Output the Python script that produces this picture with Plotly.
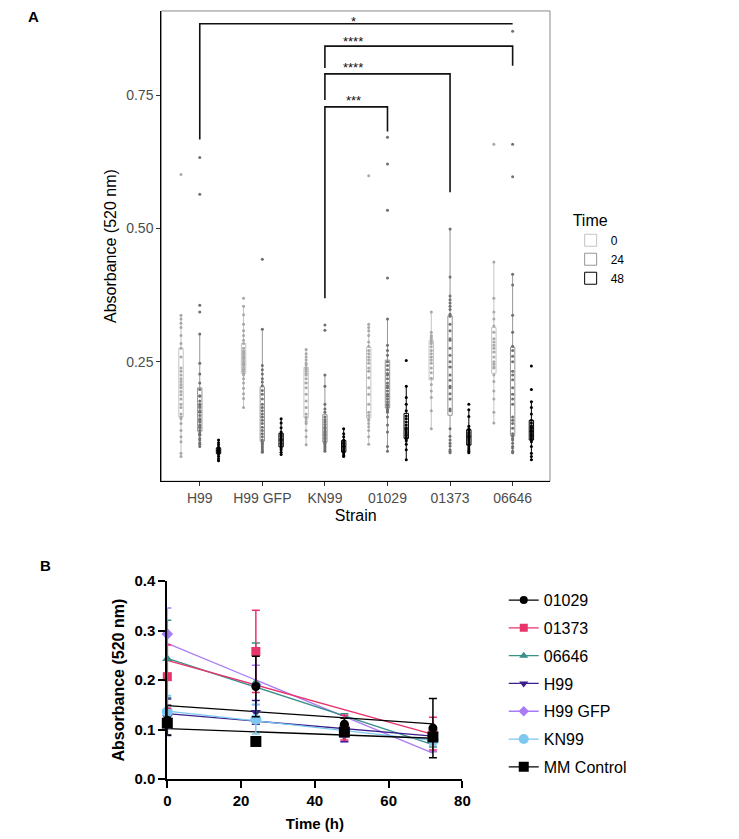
import numpy as np
import plotly.graph_objects as go

# ---------------- Panel A data ----------------
strains = ["H99", "H99 GFP", "KN99", "01029", "01373", "06646"]
times_a = ["0", "24", "48"]

a_h99_0 = [0.601, 0.337, 0.330, 0.322, 0.314, 0.299, 0.284, 0.275, 0.259, 0.238, 0.232, 0.225, 0.218, 0.213,
           0.207, 0.201, 0.194, 0.188, 0.180, 0.170, 0.164, 0.152, 0.146, 0.143, 0.134, 0.121, 0.109, 0.100,
           0.078, 0.072]
a_h99_24 = [0.633, 0.564, 0.356, 0.343, 0.302, 0.247, 0.227, 0.210, 0.198, 0.186, 0.185, 0.176, 0.170, 0.168,
            0.164, 0.158, 0.155, 0.149, 0.143, 0.140, 0.137, 0.131, 0.128, 0.126, 0.121, 0.116, 0.114, 0.112,
            0.106, 0.103, 0.098, 0.095, 0.091]
a_h99_48 = [0.103, 0.098, 0.094, 0.090, 0.088, 0.086, 0.085, 0.084, 0.083, 0.082, 0.081, 0.080, 0.078, 0.076,
            0.072, 0.068, 0.064]

a_gfp_0 = [0.369, 0.354, 0.338, 0.320, 0.308, 0.299, 0.290, 0.284, 0.275, 0.270, 0.268, 0.265, 0.261, 0.258,
           0.256, 0.251, 0.247, 0.245, 0.243, 0.238, 0.235, 0.232, 0.228, 0.225, 0.218, 0.210, 0.200, 0.190,
           0.181, 0.164]
a_gfp_24 = [0.442, 0.311, 0.243, 0.235, 0.227, 0.218, 0.212, 0.205, 0.196, 0.189, 0.180, 0.170, 0.164, 0.158,
            0.152, 0.146, 0.140, 0.134, 0.127, 0.121, 0.115, 0.109, 0.103, 0.100, 0.097, 0.094, 0.091, 0.088,
            0.085, 0.082, 0.080]
a_gfp_48 = [0.143, 0.135, 0.126, 0.118, 0.115, 0.112, 0.109, 0.106, 0.103, 0.100, 0.097, 0.094, 0.091, 0.088,
            0.085, 0.080, 0.076]

a_kn99_0 = [0.273, 0.265, 0.259, 0.253, 0.247, 0.244, 0.238, 0.236, 0.232, 0.228, 0.225, 0.218, 0.210, 0.201,
            0.189, 0.176, 0.164, 0.152, 0.146, 0.143, 0.138, 0.134, 0.121, 0.109, 0.094]
a_kn99_24 = [0.319, 0.309, 0.225, 0.204, 0.170, 0.161, 0.155, 0.146, 0.141, 0.137, 0.132, 0.127, 0.124, 0.120,
             0.116, 0.114, 0.112, 0.108, 0.106, 0.103, 0.100, 0.098, 0.096, 0.094, 0.091, 0.088, 0.085, 0.082]
a_kn99_48 = [0.124, 0.115, 0.109, 0.103, 0.100, 0.097, 0.094, 0.091, 0.088, 0.085, 0.082, 0.080, 0.077, 0.074,
             0.072]

a_01029_0 = [0.599, 0.320, 0.314, 0.308, 0.299, 0.287, 0.279, 0.271, 0.265, 0.259, 0.253, 0.247, 0.238, 0.232,
             0.220, 0.201, 0.189, 0.170, 0.155, 0.149, 0.143, 0.140, 0.134, 0.128, 0.121, 0.109, 0.095]
a_01029_24 = [0.671, 0.621, 0.534, 0.407, 0.330, 0.281, 0.271, 0.262, 0.250, 0.243, 0.235, 0.228, 0.225, 0.218,
              0.210, 0.205, 0.201, 0.195, 0.189, 0.185, 0.180, 0.175, 0.170, 0.168, 0.164, 0.160, 0.158, 0.155,
              0.146, 0.131, 0.118, 0.091, 0.082]
a_01029_48 = [0.252, 0.204, 0.183, 0.170, 0.158, 0.148, 0.143, 0.137, 0.131, 0.126, 0.122, 0.118, 0.115, 0.112,
              0.108, 0.104, 0.101, 0.095, 0.085, 0.066]

a_01373_0 = [0.343, 0.305, 0.299, 0.296, 0.292, 0.288, 0.284, 0.278, 0.271, 0.265, 0.259, 0.253, 0.247, 0.238,
             0.229, 0.219, 0.207, 0.195, 0.183, 0.158, 0.124]
a_01373_24 = [0.499, 0.409, 0.373, 0.366, 0.360, 0.354, 0.348, 0.339, 0.335, 0.320, 0.308, 0.293, 0.290, 0.275,
              0.262, 0.250, 0.240, 0.225, 0.215, 0.204, 0.201, 0.190, 0.180, 0.161, 0.158, 0.124, 0.110, 0.103,
              0.097, 0.092, 0.085, 0.082, 0.079]
a_01373_48 = [0.170, 0.160, 0.147, 0.129, 0.124, 0.121, 0.117, 0.115, 0.112, 0.110, 0.107, 0.104, 0.101, 0.098,
              0.095, 0.092, 0.088, 0.085, 0.082, 0.079]

a_06646_0 = [0.658, 0.437, 0.369, 0.343, 0.330, 0.317, 0.305, 0.293, 0.287, 0.281, 0.275, 0.268, 0.259, 0.250,
             0.245, 0.240, 0.238, 0.225, 0.213, 0.195, 0.180, 0.155, 0.135]
a_06646_24 = [0.870, 0.658, 0.597, 0.414, 0.394, 0.337, 0.305, 0.279, 0.271, 0.260, 0.250, 0.232, 0.225, 0.216,
              0.201, 0.189, 0.180, 0.170, 0.146, 0.140, 0.134, 0.125, 0.115, 0.110, 0.106, 0.103, 0.097, 0.091,
              0.088, 0.082, 0.079]
a_06646_48 = [0.242, 0.198, 0.175, 0.164, 0.152, 0.140, 0.135, 0.130, 0.127, 0.124, 0.121, 0.118, 0.115, 0.112,
              0.109, 0.106, 0.103, 0.100, 0.091, 0.078, 0.072, 0.066]

groups_a = [
    [a_h99_0, a_gfp_0, a_kn99_0, a_01029_0, a_01373_0, a_06646_0],
    [a_h99_24, a_gfp_24, a_kn99_24, a_01029_24, a_01373_24, a_06646_24],
    [a_h99_48, a_gfp_48, a_kn99_48, a_01029_48, a_01373_48, a_06646_48],
]

# significance comparisons (strain index pairs) and labels
sig_pairs = [(0, 5), (2, 5), (2, 4), (2, 3)]
sig_labels = ["*", "****", "****", "***"]

# ---------------- Panel B data ----------------
times_b = [0, 24, 48, 72]
series_b = ["01029", "01373", "06646", "H99", "H99 GFP", "KN99", "MM Control"]
mean_01029 = [0.119, 0.187, 0.111, 0.103]
mean_01373 = [0.207, 0.258, 0.104, 0.092]
mean_06646 = [0.243, 0.195, 0.112, 0.077]
mean_h99 = [0.125, 0.135, 0.088, 0.090]
mean_gfp = [0.293, 0.190, 0.090, 0.080]
mean_kn99 = [0.136, 0.121, 0.095, 0.079]
mean_mm = [0.113, 0.076, 0.095, 0.085]
sd_01029 = [0.030, 0.061, 0.012, 0.060]
sd_01373 = [0.064, 0.083, 0.025, 0.033]
sd_06646 = [0.078, 0.080, 0.020, 0.012]
sd_h99 = [0.037, 0.024, 0.012, 0.012]
sd_gfp = [0.053, 0.040, 0.015, 0.025]
sd_kn99 = [0.033, 0.030, 0.010, 0.010]
sd_mm = [0.005, 0.004, 0.004, 0.004]

means_b = [mean_01029, mean_01373, mean_06646, mean_h99, mean_gfp, mean_kn99, mean_mm]
sds_b = [sd_01029, sd_01373, sd_06646, sd_h99, sd_gfp, sd_kn99, sd_mm]

# ---------------- Styles ----------------
W, H = 739, 839
FONT = "Liberation Sans"
offsets = [-0.3, 0.0, 0.3]
box_line_cols = ["#c4c4c4", "#969696", "#000000"]
pt_cols = ["#a8a8a8", "#707070", "#000000"]

colors_b = ["#000000", "#E8336B", "#3A8F8A", "#3B1F8C", "#A97BF5", "#7CC8F0", "#000000"]
symbols_b = ["circle", "square", "triangle-up", "triangle-down", "diamond", "circle", "square"]
sizes_b = [9, 9, 9, 9, 9, 11, 11]
draw_order_b = [4, 2, 3, 5, 1, 0, 6]

fig = go.Figure()

# Panel A boxes
for ti, t in enumerate(times_a):
    xs, ys = [], []
    for si, vals in enumerate(groups_a[ti]):
        xs += [si + offsets[ti]] * len(vals)
        ys += vals
    fig.add_trace(go.Box(
        x=xs, y=ys, name=t, boxpoints="all", jitter=0, pointpos=0, width=0.07,
        line=dict(color=box_line_cols[ti], width=1), fillcolor="rgba(255,255,255,0)",
        marker=dict(color=pt_cols[ti], size=3), xaxis="x", yaxis="y", legend="legend",
        hoverinfo="y"))

# Panel B fit lines
for i in draw_order_b:
    slope, icpt = np.polyfit(times_b, means_b[i], 1)
    xf = [times_b[0], times_b[-1]]
    fig.add_trace(go.Scatter(
        x=xf, y=list(np.polyval([slope, icpt], xf)), mode="lines",
        line=dict(color=colors_b[i], width=1.3), showlegend=False,
        xaxis="x2", yaxis="y2", hoverinfo="skip"))

# Panel B means with error bars
for i in draw_order_b:
    fig.add_trace(go.Scatter(
        x=times_b, y=means_b[i], mode="markers", name=series_b[i],
        marker=dict(symbol=symbols_b[i], size=sizes_b[i], color=colors_b[i]),
        error_y=dict(type="data", array=sds_b[i], color=colors_b[i], thickness=1.5, width=4),
        showlegend=False, cliponaxis=False, xaxis="x2", yaxis="y2"))

# Panel B legend entries (line + marker symbol)
for i, name in enumerate(series_b):
    fig.add_trace(go.Scatter(
        x=[None], y=[None], mode="lines+markers", name=name, legendgroup=name,
        line=dict(color=colors_b[i], width=1.3),
        marker=dict(symbol=symbols_b[i], size=sizes_b[i] - 1, color=colors_b[i]),
        legend="legend2", xaxis="x2", yaxis="y2"))

# significance brackets (Panel A)
br_top = [0.884, 0.842, 0.790, 0.728]
br_left = [0.667, 0.801, 0.741, 0.369]
br_right = [0.884, 0.805, 0.568, 0.682]
label_y = [0.888, 0.851, 0.801, 0.740]
shapes = [dict(type="rect", xref="x domain", yref="y domain", x0=0, x1=1, y0=0, y1=1,
               line=dict(color="#8a8a8a", width=1), layer="below")]
annotations = []
for k, (a, b) in enumerate(sig_pairs):
    path = f"M {a},{br_left[k]} L {a},{br_top[k]} L {b},{br_top[k]} L {b},{br_right[k]}"
    shapes.append(dict(type="path", xref="x", yref="y", path=path,
                       line=dict(color="#111111", width=1.6)))
    annotations.append(dict(x=2.45, y=label_y[k], xref="x", yref="y", text=sig_labels[k],
                            showarrow=False, font=dict(family=FONT, size=13, color="#111"),
                            xanchor="center", yanchor="middle"))

annotations.append(dict(x=30 / W, y=1 - 8 / H, xref="paper", yref="paper", text="<b>A</b>",
                        showarrow=False, font=dict(family=FONT, size=15, color="black"),
                        xanchor="center", yanchor="middle"))
annotations.append(dict(x=42 / W, y=1 - 568 / H, xref="paper", yref="paper", text="<b>B</b>",
                        showarrow=False, font=dict(family=FONT, size=15, color="black"),
                        xanchor="center", yanchor="middle"))

fig.update_layout(
    width=W, height=H, margin=dict(l=0, r=0, t=0, b=0),
    paper_bgcolor="white", plot_bgcolor="white",
    font=dict(family=FONT, color="black"),
    shapes=shapes, annotations=annotations,
    xaxis=dict(domain=[160 / W, 555 / W], anchor="y", range=[-0.613, 5.597],
               tickvals=list(range(len(strains))), ticktext=strains,
               ticks="outside", ticklen=4, tickcolor="#333", showline=True, linecolor="black",
               linewidth=1.3, showgrid=False, zeroline=False,
               tickfont=dict(family=FONT, size=14, color="#4d4d4d"),
               title=dict(text="Strain", font=dict(family=FONT, size=16, color="black"), standoff=4)),
    yaxis=dict(domain=[1 - 482 / H, 1 - 2 / H], anchor="x", range=[0.0257, 0.908],
               tickvals=[0.25, 0.5, 0.75], ticktext=["0.25", "0.50", "0.75"],
               ticks="outside", ticklen=4, tickcolor="#333", showline=True, linecolor="black",
               linewidth=1.3, showgrid=False, zeroline=False,
               tickfont=dict(family=FONT, size=14, color="#4d4d4d"),
               title=dict(text="Absorbance (520 nm)", font=dict(family=FONT, size=16, color="black"),
                          standoff=5)),
    xaxis2=dict(domain=[166 / W, 466 / W], anchor="y2", range=[0, 80],
                tickvals=[0, 20, 40, 60, 80], ticks="outside", ticklen=7, tickwidth=2,
                tickcolor="black", showline=True, linecolor="black", linewidth=2,
                showgrid=False, zeroline=False,
                tickfont=dict(family=FONT, size=15, color="black", weight="bold"),
                title=dict(text="<b>Time (h)</b>", font=dict(family=FONT, size=15, color="black"),
                           standoff=10)),
    yaxis2=dict(domain=[1 - 786 / H, 1 - 584 / H], anchor="x2", range=[0, 0.4],
                tickvals=[0, 0.1, 0.2, 0.3, 0.4], tickformat=".1f", ticks="outside", ticklen=7,
                tickwidth=2, tickcolor="black", showline=True, linecolor="black", linewidth=2,
                showgrid=False, zeroline=False,
                tickfont=dict(family=FONT, size=15, color="black", weight="bold"),
                title=dict(text="<b>Absorbance (520 nm)</b>", font=dict(family=FONT, size=16, color="black"),
                           standoff=6)),
    legend=dict(x=576 / W, y=1 - 200 / H, xanchor="left", yanchor="top", bgcolor="rgba(0,0,0,0)",
                title=dict(text="Time", font=dict(family=FONT, size=16, color="black")),
                font=dict(family=FONT, size=12, color="black"), tracegroupgap=0, itemwidth=30),
    legend2=dict(x=508 / W, y=1 - 586 / H, xanchor="left", yanchor="top", bgcolor="rgba(0,0,0,0)",
                 font=dict(family=FONT, size=16, color="black"), tracegroupgap=4, itemwidth=30),
)

fig.write_html("out.html")
